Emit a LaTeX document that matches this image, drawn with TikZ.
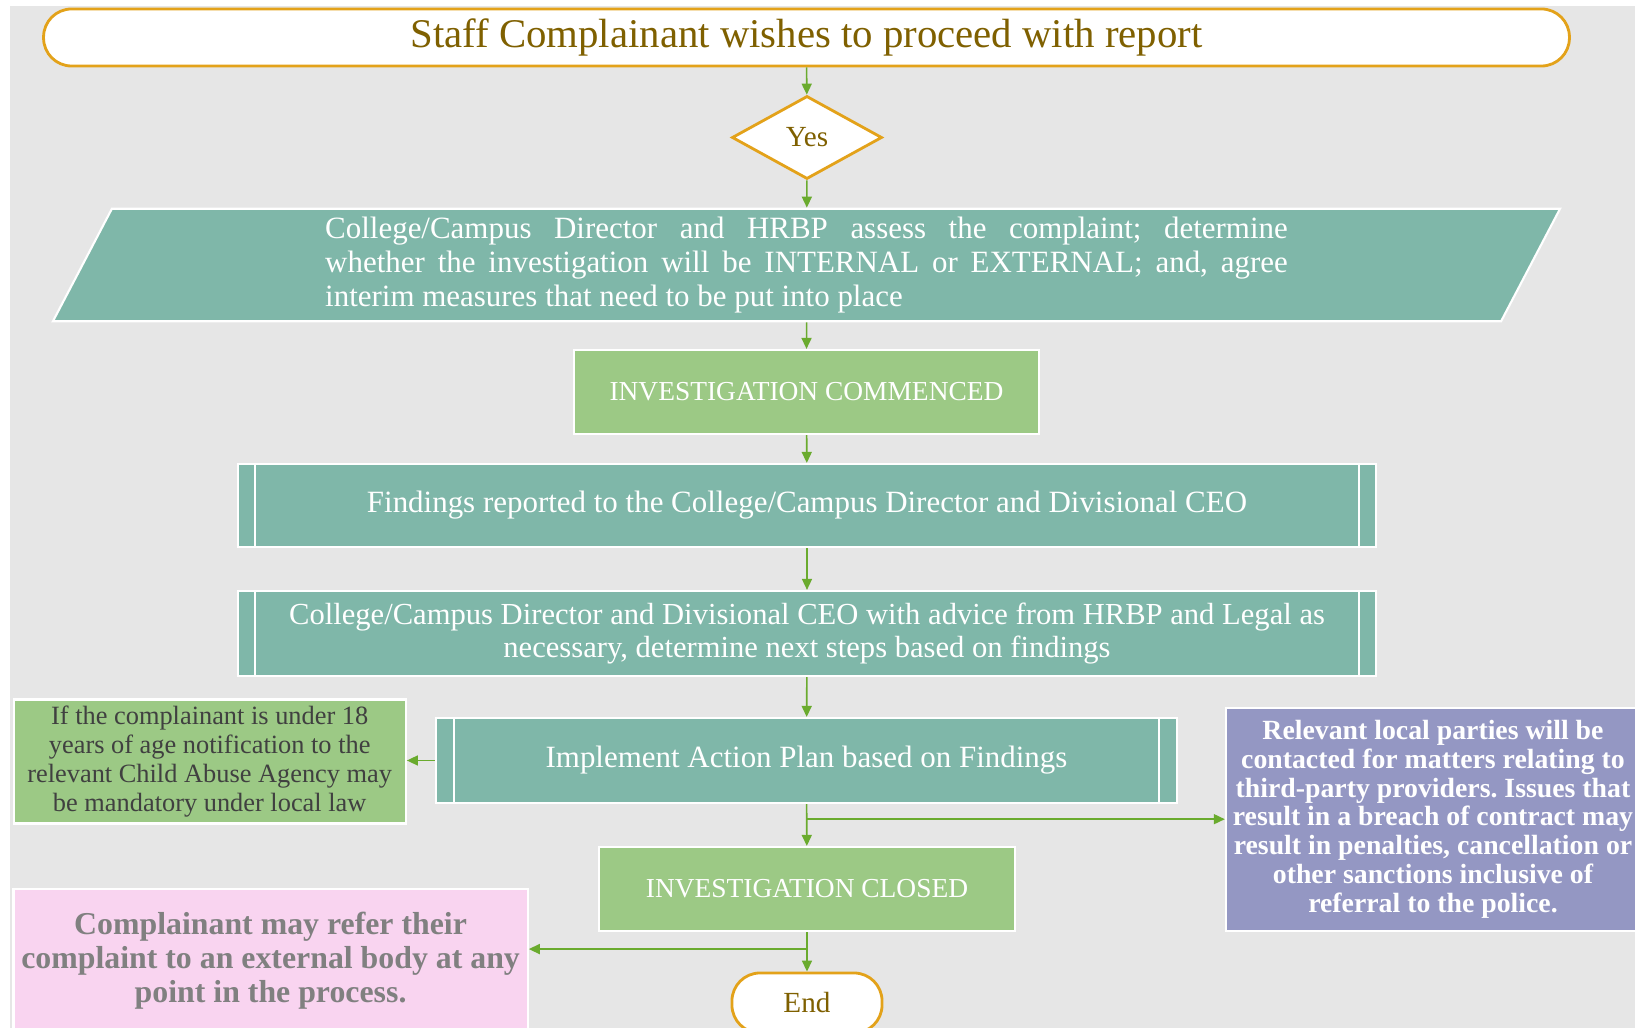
\documentclass[tikz,border=0pt]{standalone}
\usepackage{fontspec}
\setmainfont{Liberation Serif}
\usetikzlibrary{arrows.meta,shapes.geometric,calc}
\frenchspacing

\definecolor{pagegray}{HTML}{E6E6E6}
\definecolor{tealbox}{HTML}{7FB7A9}
\definecolor{greenbox}{HTML}{9CC985}
\definecolor{purplebox}{HTML}{9497C3}
\definecolor{pinkbox}{HTML}{F9D4F0}
\definecolor{termline}{HTML}{E3A21A}
\definecolor{termtext}{HTML}{7F6000}
\definecolor{flowline}{HTML}{6AAB2E}

\begin{document}
\begin{tikzpicture}[x=0.01cm,y=-0.01cm,
    box/.style={draw=white,line width=0.6pt,text=white,align=center,inner sep=0pt},
    teal/.style={box,fill=tealbox,font=\fontsize{8.8pt}{9.3pt}\selectfont},
    green/.style={box,fill=greenbox,font=\fontsize{7.8pt}{9.5pt}\selectfont},
    subproc/.style={teal,rectangle,
        path picture={
            \draw[white,line width=0.6pt]
                ([xshift=#1]path picture bounding box.north west) -- ([xshift=#1]path picture bounding box.south west)
                ([xshift=-#1]path picture bounding box.north east) -- ([xshift=-#1]path picture bounding box.south east);
        }},
    terminal/.style={draw=termline,line width=0.8pt,fill=white,text=termtext,inner sep=0pt},
    arr/.style={-{Triangle[length=0.11cm,width=0.1cm]},draw=flowline,line width=0.45pt}]

    % page
    \useasboundingbox (0,0) rectangle (1635,1028);
    \fill[pagegray] (10,6) rectangle (1640,1040);

    % main column
    \node[terminal,rounded corners=0.28cm,minimum width=15.25cm,minimum height=0.57cm,
          font=\fontsize{11.6pt}{12.5pt}\selectfont] (start) at (806.5,37.5)
        {Staff Complainant wishes to proceed with report};
    \node[terminal,diamond,minimum width=1.5cm,minimum height=0.83cm,
          font=\fontsize{8.3pt}{9.7pt}\selectfont] (yes) at (807,137.5) {Yes};
    \node[teal,trapezium,trapezium left angle=67,trapezium right angle=113,
          trapezium stretches=true,minimum width=15.11cm,minimum height=1.125cm,
          font=\fontsize{8.8pt}{9.7pt}\selectfont] (assess) at (806.5,265)
        {\parbox{9.62cm}{\makebox[9.62cm][s]{College/Campus Director and HRBP assess the complaint; determine}\\
         \makebox[9.62cm][s]{whether the investigation will be INTERNAL or EXTERNAL; and, agree}\\
         interim measures that need to be put into place}};
    \node[green,minimum width=4.64cm,minimum height=0.84cm] (commenced) at (806.5,392)
        {INVESTIGATION COMMENCED};
    \node[subproc=0.17cm,minimum width=11.38cm,minimum height=0.83cm] (findings) at (807,505.5)
        {Findings reported to the College/Campus Director and Divisional CEO};
    \node[subproc=0.17cm,minimum width=11.38cm,minimum height=0.85cm,
          font=\fontsize{8.7pt}{9.3pt}\selectfont] (nextsteps) at (807,633.5)
        {College/Campus Director and Divisional CEO with advice from HRBP and Legal as\\
         necessary, determine next steps based on findings};
    \node[subproc=0.18cm,minimum width=7.41cm,minimum height=0.85cm] (implement) at (806.5,760.5)
        {Implement Action Plan based on Findings};
    \node[green,minimum width=4.15cm,minimum height=0.84cm] (closed) at (807,889)
        {INVESTIGATION CLOSED};
    \node[terminal,rounded corners=0.28cm,minimum width=1.5cm,minimum height=0.6cm,
          font=\fontsize{8.3pt}{9.7pt}\selectfont] (finish) at (807,1003) {End};

    % side notes
    \node[box,fill=greenbox,text=black!75,minimum width=3.92cm,minimum height=1.24cm,
          font=\fontsize{7.5pt}{8.3pt}\selectfont] (agency) at (209.7,761.5)
        {If the complainant is under 18\\ years of age notification to the\\
         relevant Child Abuse Agency may\\ be mandatory under local law};
    \node[box,fill=purplebox,minimum width=4.14cm,minimum height=2.23cm,
          font=\fontsize{7.9pt}{8.2pt}\selectfont\bfseries] (parties) at (1433,819.2)
        {Relevant local parties will be\\ contacted for matters relating to\\
         third-party providers. Issues that\\ result in a breach of contract may\\
         result in penalties, cancellation or\\ other sanctions inclusive of\\
         referral to the police.};
    \node[box,fill=pinkbox,text=black!50,minimum width=5.14cm,minimum height=1.44cm,
          font=\fontsize{9.05pt}{9.7pt}\selectfont\bfseries] (refer) at (270.6,961)
        {Complainant may refer their\\ complaint to an external body at any\\
         point in the process.};

    % connectors
    \draw[arr] (start) -- (yes);
    \draw[arr] (yes) -- (assess);
    \draw[arr] (assess) -- (commenced);
    \draw[arr] (commenced) -- (findings);
    \draw[arr] (findings) -- (nextsteps);
    \draw[arr] (nextsteps) -- (implement);
    \draw[arr] (implement) -- (agency.east |- implement.west);
    \draw[arr] (implement) -- (closed);
    \draw[arr] (implement.south) |- (parties.west);
    \coordinate (split) at ($(closed.south)+(0,17)$);
    \draw[arr] (split) -- (split -| refer.east);
    \draw[arr] (closed) -- (finish);
\end{tikzpicture}
\end{document}
